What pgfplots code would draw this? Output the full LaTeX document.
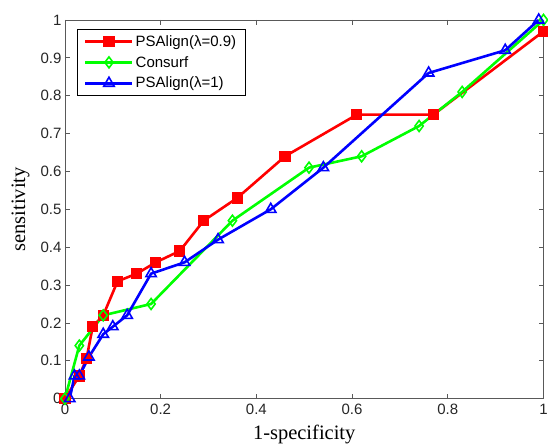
\documentclass[border=0pt]{standalone}
\usepackage{fontspec}
\setmainfont{Liberation Sans}
\newfontfamily\serif{Liberation Serif}
\usepackage{pgfplots}
\pgfplotsset{compat=1.18}
\usetikzlibrary{calc}
\definecolor{mred}{RGB}{255,0,0}
\definecolor{mgreen}{RGB}{0,255,0}
\definecolor{mblue}{RGB}{0,0,255}
\begin{document}
\begin{tikzpicture}
\begin{axis}[
    scale only axis, width=479pt, height=379pt,
    xmin=0, xmax=1, ymin=0, ymax=1,
    xtick={0,0.2,...,1}, ytick={0,0.1,...,1},
    xticklabels={0,0.2,0.4,0.6,0.8,1},
    yticklabels={0,0.1,0.2,0.3,0.4,0.5,0.6,0.7,0.8,0.9,1},
    tick align=inside, major tick length=5pt,
    axis line style={black!65, line width=0.8pt},
    tick style={black!65, line width=0.8pt},
    ticklabel style={font=\fontsize{15}{17}\selectfont, text=black!85},
    xticklabel style={yshift=-2pt},
    xlabel={\serif\fontsize{20.5}{22}\selectfont 1-specificity},
    ylabel={\serif\fontsize{20.5}{22}\selectfont sensitivity},
    every axis x label/.style={at={(axis description cs:0.5,-0.095)}, anchor=center},
    every axis y label/.style={at={(axis description cs:-0.093,0.5)}, anchor=center, rotate=90},
    clip=false,
    legend style={at={(axis description cs:0.025,0.976)}, anchor=north west,
        draw=black, line width=0.6pt, inner xsep=7pt, inner ysep=4pt,
        font=\fontsize{15}{17}\selectfont, row sep=4.5pt},
    legend cell align=left,
    legend image code/.code={
        \draw[mark repeat=2, mark phase=2] plot coordinates {(0pt,0pt) (23.5pt,0pt) (47pt,0pt)};
    },
]
\addplot[mred, line width=2.6pt, mark=square*, mark size=5pt, mark options={solid, line width=1.2pt}] coordinates {
(0,0)(0.03,0.06)(0.045,0.105)(0.058,0.19)(0.08,0.22)(0.11,0.31)(0.15,0.33)(0.19,0.36)(0.24,0.39)(0.29,0.47)(0.36,0.53)(0.46,0.64)(0.61,0.75)(0.77,0.75)(1.0,0.97)};
\addlegendentry{PSAlign(λ=0.9)\hspace{6pt}}
\addplot[mgreen, line width=2.6pt, mark=diamond, mark size=5.5pt, mark options={solid, line width=1.6pt}] coordinates {
(0,0)(0.03,0.14)(0.08,0.22)(0.18,0.25)(0.35,0.47)(0.51,0.61)(0.62,0.64)(0.74,0.72)(0.83,0.81)(1,1)};
\addlegendentry{Consurf}
\addplot[mblue, line width=2.6pt, mark=triangle, mark size=6pt, mark options={solid, line width=1.6pt}] coordinates {
(0.01,0)(0.02,0.06)(0.03,0.06)(0.05,0.11)(0.08,0.17)(0.10,0.19)(0.13,0.22)(0.18,0.33)(0.25,0.36)(0.32,0.42)(0.43,0.50)(0.54,0.61)(0.76,0.86)(0.92,0.92)(0.99,1)};
\addlegendentry{PSAlign(λ=1)}
\coordinate (sw) at (rel axis cs:0,0);
\coordinate (ne) at (rel axis cs:1,1);
\end{axis}
\pgfresetboundingbox
\useasboundingbox ($(sw)+(-65pt,-48pt)$) rectangle ($(ne)+(4.5pt,20pt)$);
\end{tikzpicture}
\end{document}
